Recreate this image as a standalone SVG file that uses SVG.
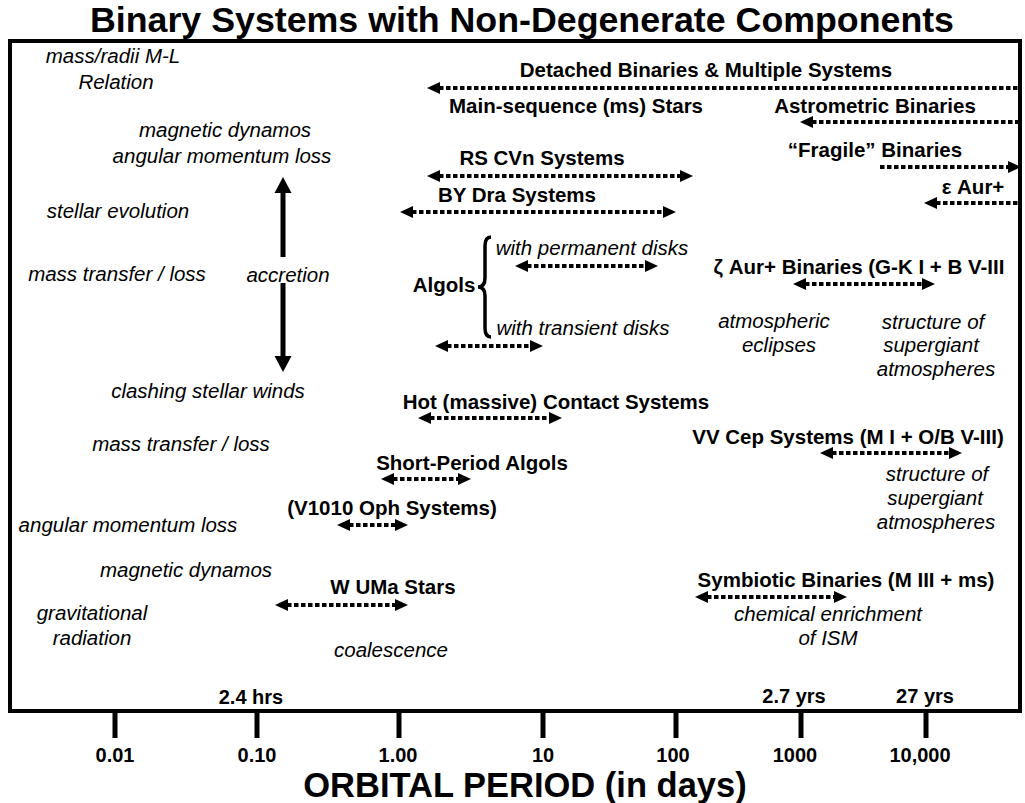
<svg xmlns="http://www.w3.org/2000/svg" width="1025" height="803" viewBox="0 0 1025 803">
<style>
.b{font-family:"Liberation Sans",Arial,sans-serif;font-weight:bold;font-size:20.5px;fill:#000;text-anchor:middle}
.i{font-family:"Liberation Sans",Arial,sans-serif;font-style:italic;font-size:20.5px;fill:#000;text-anchor:middle}
.t{font-family:"Liberation Sans",Arial,sans-serif;font-weight:bold;font-size:20px;fill:#000;text-anchor:middle}
.big{font-family:"Liberation Sans",Arial,sans-serif;font-weight:bold;font-size:35px;fill:#000;text-anchor:middle}
.ax{font-family:"Liberation Sans",Arial,sans-serif;font-weight:bold;font-size:34.5px;fill:#000;text-anchor:middle}
.d{fill:none;stroke:#000;stroke-width:4;stroke-dasharray:4.5 2.5}
.v{fill:none;stroke:#000;stroke-width:5}
</style>
<defs>
<marker id="ah" markerUnits="userSpaceOnUse" markerWidth="14" markerHeight="13" refX="1" refY="6" orient="auto-start-reverse" viewBox="0 0 14 12">
<path d="M0,0 L13,6 L0,12 z" fill="#000"/>
</marker>
<marker id="vh" markerUnits="userSpaceOnUse" markerWidth="18" markerHeight="18" refX="1" refY="8.5" orient="auto-start-reverse" viewBox="0 0 18 17">
<path d="M0,0 L16,8.5 L0,17 z" fill="#000"/>
</marker>
</defs>
<rect width="1025" height="803" fill="#fff"/>
<text class="big" x="522" y="32" textLength="864" lengthAdjust="spacingAndGlyphs">Binary Systems with Non-Degenerate Components</text>
<rect id="frame" x="10" y="41" width="1010" height="670" fill="none" stroke="#000" stroke-width="4"/>

<g id="connectors">
<path class="d" d="M439,88 H1020" marker-start="url(#ah)"/>
<path class="d" d="M812,122 H1020" marker-start="url(#ah)"/>
<path class="d" d="M439,176 H681" marker-start="url(#ah)" marker-end="url(#ah)"/>
<path class="d" d="M880,167 H1009" marker-end="url(#ah)"/>
<path class="d" d="M936,203 H1020" marker-start="url(#ah)"/>
<path class="d" d="M412,212 H664" marker-start="url(#ah)" marker-end="url(#ah)"/>
<path class="d" d="M527,266 H646" marker-start="url(#ah)" marker-end="url(#ah)"/>
<path class="d" d="M447,346 H531" marker-start="url(#ah)" marker-end="url(#ah)"/>
<path class="d" d="M805,284 H923" marker-start="url(#ah)" marker-end="url(#ah)"/>
<path class="d" d="M430,418 H550" marker-start="url(#ah)" marker-end="url(#ah)"/>
<path class="d" d="M393,479 H459" marker-start="url(#ah)" marker-end="url(#ah)"/>
<path class="d" d="M349,525 H396" marker-start="url(#ah)" marker-end="url(#ah)"/>
<path class="d" d="M287,605 H396" marker-start="url(#ah)" marker-end="url(#ah)"/>
<path class="d" d="M832,453 H950" marker-start="url(#ah)" marker-end="url(#ah)"/>
<path class="d" d="M707,597 H835" marker-start="url(#ah)" marker-end="url(#ah)"/>
<path class="v" d="M283,257 V192" marker-end="url(#vh)"/>
<path class="v" d="M283,283 V357" marker-end="url(#vh)"/>
<path d="M491,237 Q485,237 485,246 L485,278 Q485,287 478,287 Q485,287 485,296 L485,328 Q485,337 491,337" fill="none" stroke="#000" stroke-width="3.5"/>
</g>

<g id="axis">
<path class="v" d="M115,712 V738 M257,712 V738 M399,712 V738 M543,712 V738 M676,712 V738 M801,712 V738 M926,712 V738"/>
<text class="t" x="251" y="704">2.4 hrs</text>
<text class="t" x="794" y="703">2.7 yrs</text>
<text class="t" x="925" y="703">27 yrs</text>
<text class="t" x="115" y="761.5">0.01</text>
<text class="t" x="257" y="761.5">0.10</text>
<text class="t" x="398" y="761.5">1.00</text>
<text class="t" x="543" y="761.5">10</text>
<text class="t" x="673" y="761.5">100</text>
<text class="t" x="795" y="761.5">1000</text>
<text class="t" x="920" y="761.5">10,000</text>
<text class="ax" x="525" y="797">ORBITAL PERIOD (in days)</text>
</g>

<g id="phenomena">
<text class="i" x="113" y="63">mass/radii M-L</text>
<text class="i" x="116" y="89">Relation</text>
<text class="i" x="225" y="137">magnetic dynamos</text>
<text class="i" x="222" y="163">angular momentum loss</text>
<text class="i" x="118" y="218">stellar evolution</text>
<text class="i" x="117" y="281">mass transfer / loss</text>
<text class="i" x="288" y="282">accretion</text>
<text class="i" x="208" y="398">clashing stellar winds</text>
<text class="i" x="181" y="451">mass transfer / loss</text>
<text class="i" x="128" y="532">angular momentum loss</text>
<text class="i" x="186" y="577">magnetic dynamos</text>
<text class="i" x="92" y="620">gravitational</text>
<text class="i" x="92" y="645">radiation</text>
<text class="i" x="391" y="657">coalescence</text>
</g>

<g id="node-detached"><text class="b" x="706" y="77">Detached Binaries &amp; Multiple Systems</text></g>
<g id="node-ms"><text class="b" x="576" y="113">Main-sequence (ms) Stars</text></g>
<g id="node-astrometric"><text class="b" x="875" y="113">Astrometric Binaries</text></g>
<g id="node-fragile"><text class="b" x="875" y="157">“Fragile” Binaries</text></g>
<g id="node-rscvn"><text class="b" x="542" y="165">RS CVn Systems</text></g>
<g id="node-bydra"><text class="b" x="517" y="202">BY Dra Systems</text></g>
<g id="node-epsaur"><text class="b" x="973" y="194">ε Aur+</text></g>
<g id="node-algols">
<text class="b" x="444" y="292">Algols</text>
<text class="i" x="592" y="255">with permanent disks</text>
<text class="i" x="583" y="335">with transient disks</text>
</g>
<g id="node-zetaaur">
<text class="b" x="859" y="274">ζ Aur+ Binaries (G-K I + B V-III</text>
<text class="i" x="774" y="328">atmospheric</text>
<text class="i" x="779" y="352">eclipses</text>
<text class="i" x="933" y="329">structure of</text>
<text class="i" x="931" y="352">supergiant</text>
<text class="i" x="936" y="376">atmospheres</text>
</g>
<g id="node-hot"><text class="b" x="556" y="409">Hot (massive) Contact Systems</text></g>
<g id="node-vvcep">
<text class="b" x="848" y="444">VV Cep Systems (M I + O/B V-III)</text>
<text class="i" x="937" y="481">structure of</text>
<text class="i" x="935" y="505">supergiant</text>
<text class="i" x="936" y="529">atmospheres</text>
</g>
<g id="node-shortalgols"><text class="b" x="472" y="470">Short-Period Algols</text></g>
<g id="node-v1010"><text class="b" x="392" y="515">(V1010 Oph Systems)</text></g>
<g id="node-wuma"><text class="b" x="393" y="594">W UMa Stars</text></g>
<g id="node-symbiotic">
<text class="b" x="846" y="587">Symbiotic Binaries (M III + ms)</text>
<text class="i" x="828" y="621">chemical enrichment</text>
<text class="i" x="828" y="645">of ISM</text>
</g>
</svg>
